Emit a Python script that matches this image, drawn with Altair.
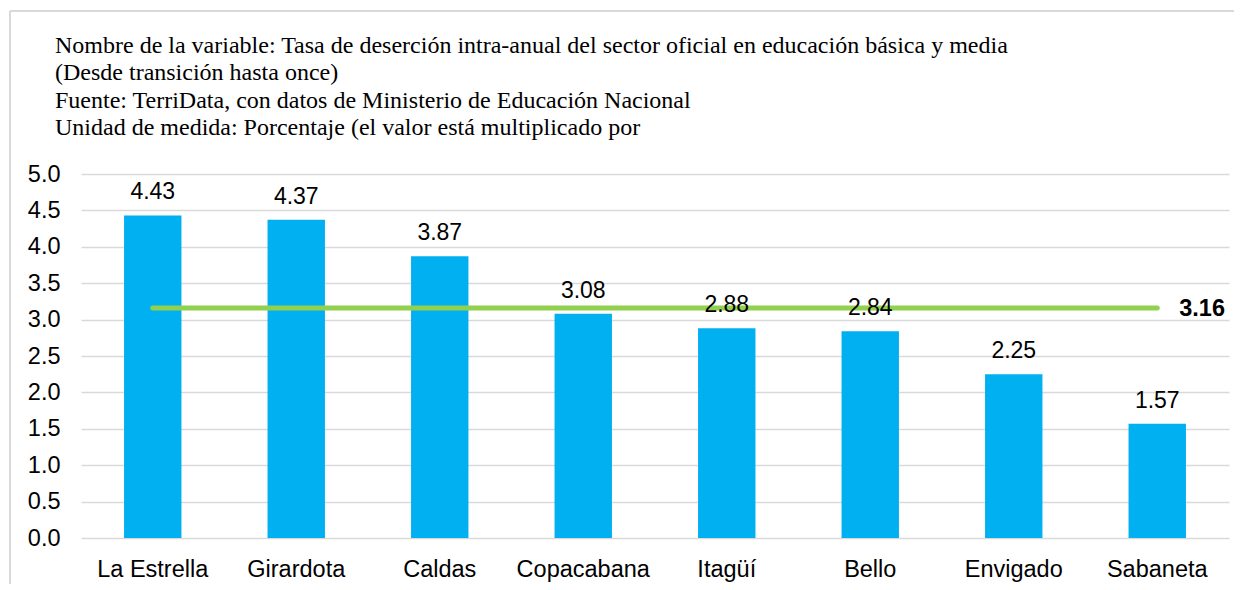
import altair as alt
import pandas as pd

categories = ["La Estrella", "Girardota", "Caldas", "Copacabana", "Itagüí", "Bello", "Envigado", "Sabaneta"]
values = [4.43, 4.37, 3.87, 3.08, 2.88, 2.84, 2.25, 1.57]
average = 3.16
y_ticks = [0.0, 0.5, 1.0, 1.5, 2.0, 2.5, 3.0, 3.5, 4.0, 4.5, 5.0]
title_lines = [
    "Nombre de la variable: Tasa de deserción intra-anual del sector oficial en educación básica y media",
    "(Desde transición hasta once)",
    "Fuente: TerriData, con datos de Ministerio de Educación Nacional",
    "Unidad de medida: Porcentaje (el valor está multiplicado por",
]

df = pd.DataFrame({"cat": categories, "v": values})
df_avg = pd.DataFrame({"cat": categories, "avg": [average] * len(categories)})
df_avg_lbl = pd.DataFrame({"cat": [categories[-1]], "avg": [average], "lbl": [f"{average:.2f}"]})
df_title = pd.DataFrame({"t": ["\n".join(title_lines)]})

x_axis = alt.Axis(labelAngle=0, labelFont="Liberation Sans", labelFontSize=23.5,
                  labelColor="#000000", labelPadding=19, ticks=False, domain=False, grid=False,
                  labelOverlap=False)
x_scale = alt.Scale(paddingInner=0.6, paddingOuter=0.3)
y_axis = alt.Axis(values=y_ticks, format=".1f", labelFont="Liberation Sans", labelFontSize=23.5,
                  labelColor="#000000", labelPadding=21, ticks=False, domain=False,
                  labelOverlap=False, labelFlush=False,
                  grid=True, gridColor="#D9D9D9", gridWidth=1.5)
y_scale = alt.Scale(domain=[0, 5], nice=False)


def xe():
    return alt.X("cat:N", sort=categories, title=None, scale=x_scale, axis=x_axis)


def ye(field):
    return alt.Y(field, scale=y_scale, title=None, axis=y_axis)


bars = alt.Chart(df).mark_bar(color="#00B0F0").encode(x=xe(), y=ye("v:Q"))

bar_labels = alt.Chart(df).mark_text(
    font="Liberation Sans", fontSize=23, color="#000000", baseline="alphabetic", dy=-16
).encode(x=xe(), y=ye("v:Q"), text=alt.Text("v:Q", format=".2f"))

avg_line = alt.Chart(df_avg).mark_line(color="#92D050", strokeWidth=5, strokeCap="round").encode(
    x=xe(), y=ye("avg:Q")
)

avg_label = alt.Chart(df_avg_lbl).mark_text(
    font="Liberation Sans", fontSize=23.5, fontWeight="bold", color="#000000",
    align="left", baseline="middle", dx=22, dy=1
).encode(x=xe(), y=ye("avg:Q"), text="lbl:N")

title_text = alt.Chart(df_title).mark_text(
    font="Liberation Serif", fontSize=24, color="#000000", align="left",
    baseline="alphabetic", lineBreak="\n", lineHeight=27.6
).encode(x=alt.value(-26), y=alt.value(-121.5), text="t:N")

frame_left = alt.Chart(df_avg_lbl).mark_rule(color="#D9D9D9", strokeWidth=2).encode(
    x=alt.value(-71), y=alt.value(-163), y2=alt.value(430)
)
frame_top = alt.Chart(df_avg_lbl).mark_rule(color="#D9D9D9", strokeWidth=2).encode(
    x=alt.value(-71), x2=alt.value(1200), y=alt.value(-163)
)

chart = alt.layer(frame_left, frame_top, title_text, bars, avg_line, bar_labels, avg_label).properties(
    width=1148,
    height=364,
    autosize=alt.AutoSizeParams(type="none"),
    padding={"left": 73, "top": 166, "right": 5, "bottom": 46},
).configure(background="#FFFFFF").configure_view(stroke=None)

chart.save("out.html", embed_options={"renderer": "svg", "actions": False})
